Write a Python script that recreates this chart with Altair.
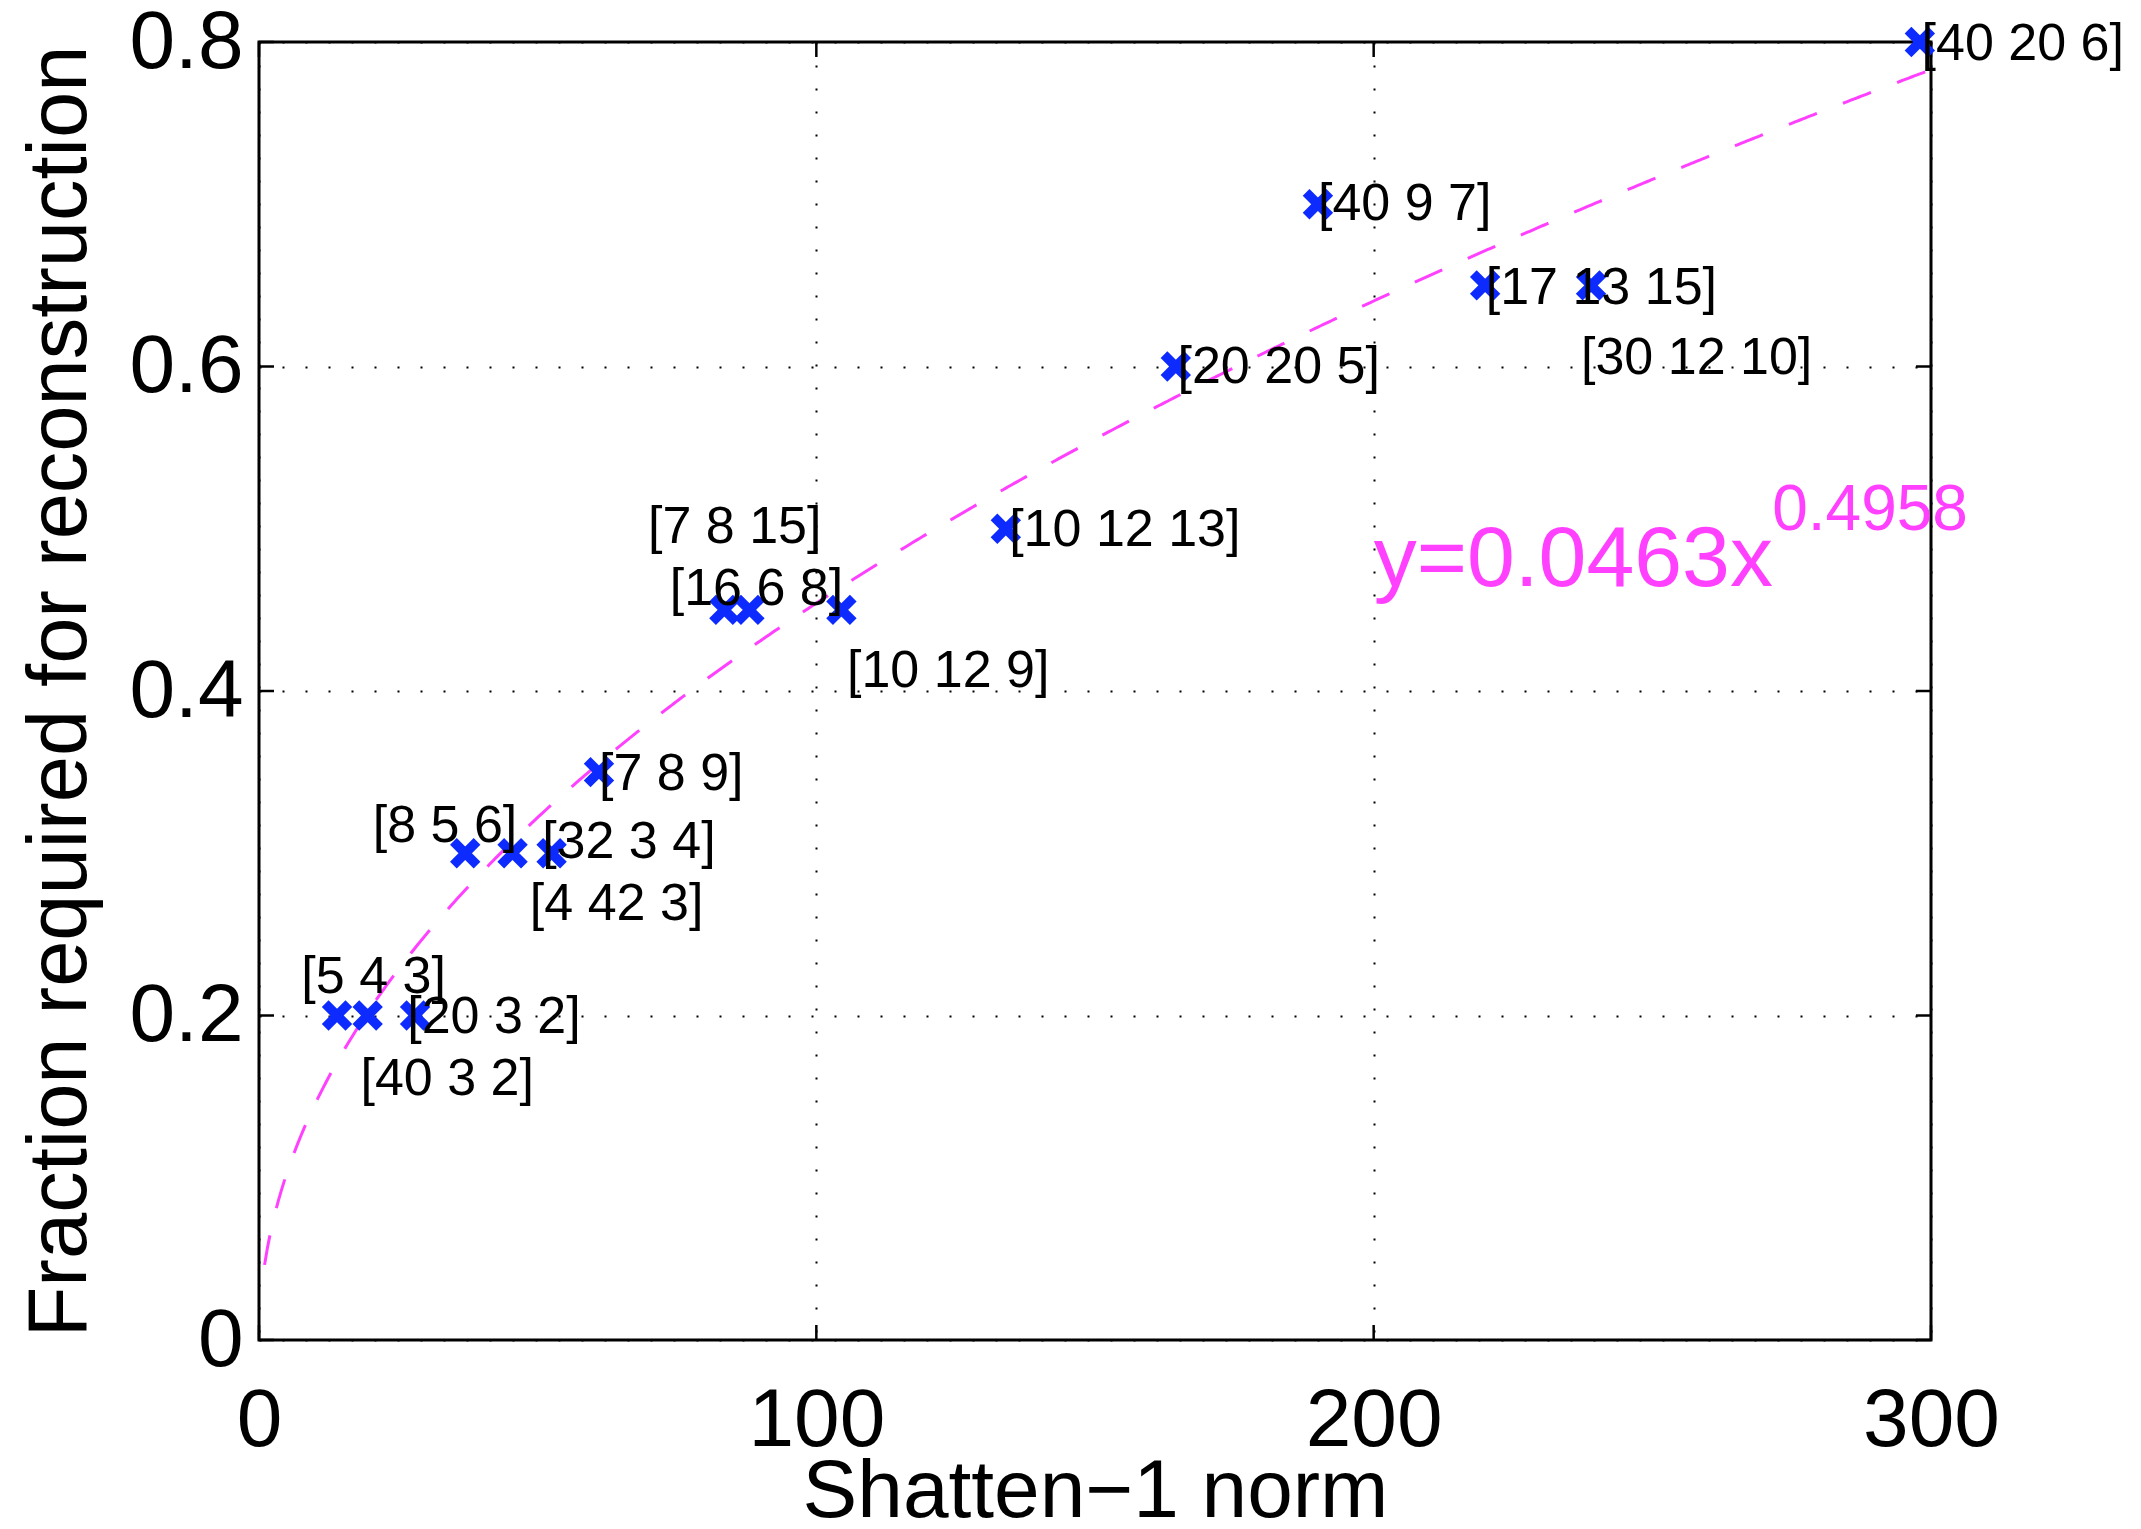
import altair as alt
import pandas as pd

# ---- data ----
names = ["[5 4 3]", "[40 3 2]", "[20 3 2]", "[8 5 6]", "[4 42 3]", "[32 3 4]",
         "[7 8 9]", "[7 8 15]", "[16 6 8]", "[10 12 9]", "[10 12 13]",
         "[20 20 5]", "[40 9 7]", "[17 13 15]", "[30 12 10]", "[40 20 6]"]
shatten = [14, 19.5, 28, 37, 45.5, 52.5, 61, 83.5, 88, 104.5, 134,
           164.5, 190, 220, 239, 298]
fraction = [0.2, 0.2, 0.2, 0.3, 0.3, 0.3, 0.35, 0.45, 0.45, 0.45, 0.5,
            0.6, 0.7, 0.65, 0.65, 0.8]
# where each text label was placed (data units)
label_x = [7.6, 18.2, 26.6, 20.4, 48.6, 50.8, 61, 69.8, 73.7, 105.5, 134.6,
           164.8, 190, 220.1, 237.2, 298.3]
label_y = [0.224, 0.161, 0.199, 0.317, 0.269, 0.307, 0.349, 0.501, 0.463,
           0.4125, 0.499, 0.600, 0.700, 0.6485, 0.6055, 0.799]

# fitted power law shown on the chart
fit_a = 0.0463
fit_b = 0.4958
fit_start, fit_end = 1, 300

x_ticks = [0, 100, 200, 300]
y_ticks = [0, 0.2, 0.4, 0.6, 0.8]

eq_main = "y=0.0463x"
eq_sup = "0.4958"
eq_main_pos = (200, 0.465)
eq_sup_pos = (271.5, 0.499)

# ---- layout ----
W, H = 1672, 1298
FONT = "Liberation Sans"
BLUE = "#0d2bff"
MAGENTA = "#ff40ff"
TICK = 15

xscale = alt.Scale(domain=[0, 300], nice=False, zero=False)
yscale = alt.Scale(domain=[0, 0.8], nice=False, zero=False)

xaxis = alt.Axis(values=x_ticks, format="d", title="Shatten\u22121 norm",
                 labelFontSize=82, labelFont=FONT, labelColor="black",
                 labelBaseline="alphabetic", labelPadding=105,
                 ticks=False, domain=False, grid=True,
                 gridColor="black", gridDash=[2, 21], gridWidth=2, gridOpacity=1,
                 titleFontSize=82, titleFont=FONT, titleFontWeight="normal",
                 titleColor="black", titleBaseline="alphabetic",
                 titleX=W / 2, titleY=176, titleAlign="center",
                 labelFlush=False, labelOverlap=False)
yaxis = alt.Axis(values=y_ticks, format="~g", title="Fraction required for reconstruction",
                 labelFontSize=82, labelFont=FONT, labelColor="black",
                 labelPadding=16, ticks=False, domain=False, grid=True,
                 gridColor="black", gridDash=[2, 21], gridWidth=2, gridOpacity=1,
                 titleFontSize=83, titleFont=FONT, titleFontWeight="normal",
                 titleColor="black", titleBaseline="alphabetic", titleAngle=-90,
                 titleX=-174, titleY=H / 2, titleAlign="center",
                 labelFlush=False, labelOverlap=False)

X = lambda: alt.X("x:Q", scale=xscale, axis=xaxis)
Y = lambda: alt.Y("y:Q", scale=yscale, axis=yaxis)

pts = pd.DataFrame({"x": shatten, "y": fraction, "name": names})
labs = pd.DataFrame({"x": label_x, "y": label_y, "name": names})

fit = (alt.Chart(alt.sequence(fit_start, fit_end + 0.5, 0.5, as_="x"))
       .transform_calculate(y=f"{fit_a}*pow(datum.x,{fit_b})")
       .mark_line(color=MAGENTA, strokeWidth=3, strokeDash=[30, 28])
       .encode(x=X(), y=Y()))

markers = (alt.Chart(pts)
           .mark_point(shape="M-1,-1L1,1M-1,1L1,-1", size=560, strokeWidth=9.5,
                       color=BLUE, opacity=1, filled=False, strokeCap="butt")
           .encode(x=X(), y=Y()))

texts = (alt.Chart(labs)
         .mark_text(align="left", baseline="middle", fontSize=52, font=FONT, color="black")
         .encode(x=X(), y=Y(), text="name:N"))

eq_df = pd.DataFrame({"x": [eq_main_pos[0]], "y": [eq_main_pos[1]], "t": [eq_main]})
sup_df = pd.DataFrame({"x": [eq_sup_pos[0]], "y": [eq_sup_pos[1]], "t": [eq_sup]})
eq1 = (alt.Chart(eq_df).mark_text(align="left", baseline="alphabetic", fontSize=86,
                                   font=FONT, color=MAGENTA)
       .encode(x=X(), y=Y(), text="t:N"))
eq2 = (alt.Chart(sup_df).mark_text(align="left", baseline="alphabetic", fontSize=64,
                                    font=FONT, color=MAGENTA)
       .encode(x=X(), y=Y(), text="t:N"))

xt = pd.DataFrame({"x": x_ticks})
yt = pd.DataFrame({"y": y_ticks})
tick_style = dict(color="black", strokeWidth=2.5)
tb = alt.Chart(xt).mark_rule(**tick_style).encode(x=X(), y=alt.value(H), y2=alt.value(H - TICK))
tt = alt.Chart(xt).mark_rule(**tick_style).encode(x=X(), y=alt.value(0), y2=alt.value(TICK))
tl = alt.Chart(yt).mark_rule(**tick_style).encode(y=Y(), x=alt.value(0), x2=alt.value(TICK))
tr = alt.Chart(yt).mark_rule(**tick_style).encode(y=Y(), x=alt.value(W), x2=alt.value(W - TICK))

chart = (alt.layer(tb, tt, tl, tr, fit, markers, texts, eq1, eq2)
         .properties(width=W, height=H,
                     autosize=alt.AutoSizeParams(type="none"),
                     padding={"left": 259, "top": 42, "right": 210, "bottom": 189},
                     background="white")
         .configure_view(stroke="black", strokeWidth=3))

chart.save("out.html", embed_options={"renderer": "svg", "actions": False})
